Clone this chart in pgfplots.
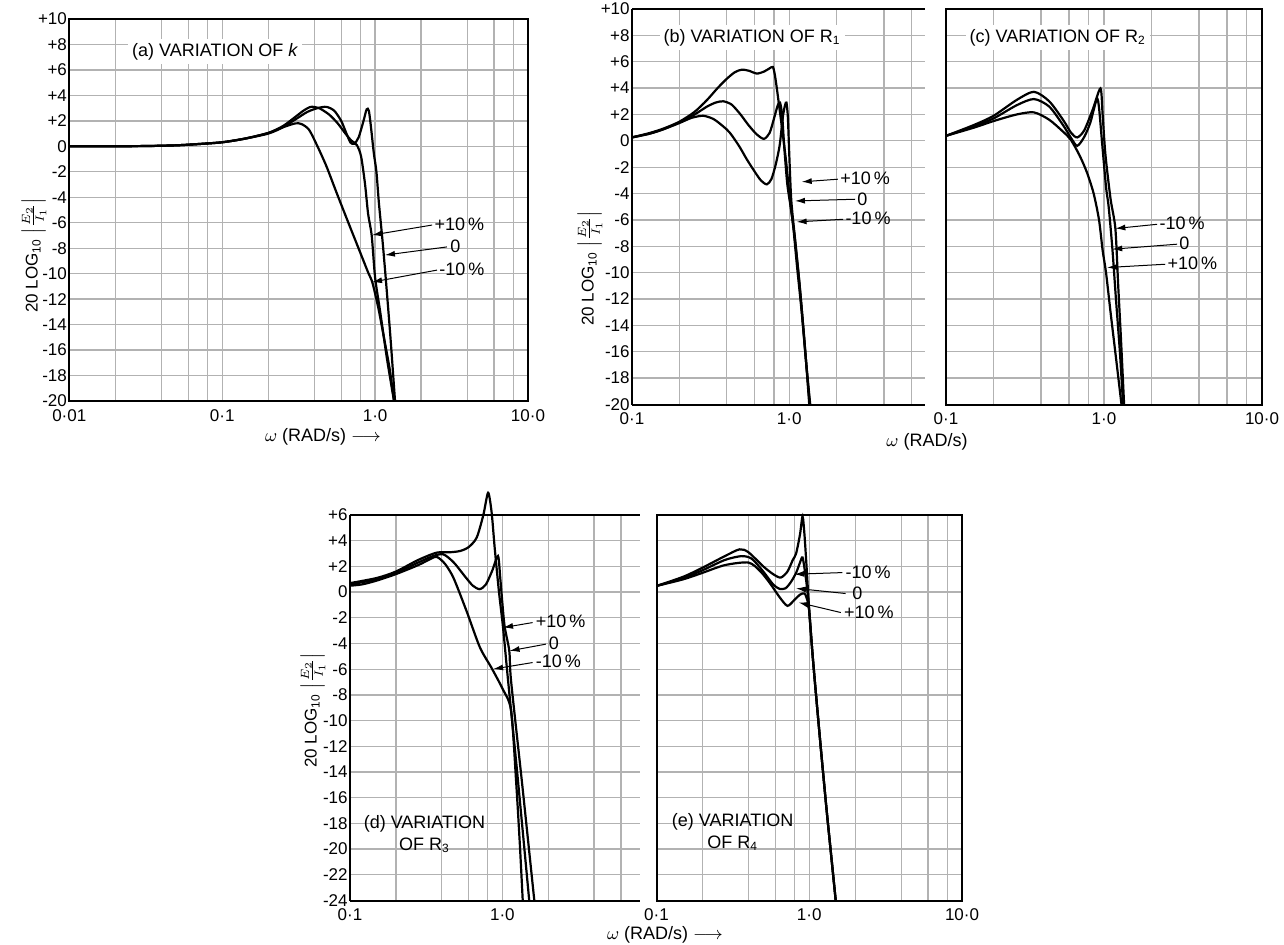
\documentclass[border=0pt]{standalone}
\usepackage{fontspec}
\setmainfont{Liberation Sans}
\usepackage{pgfplots}
\pgfplotsset{compat=1.18}
\usetikzlibrary{arrows.meta}

\pgfplotsset{
  bode/.style={
    scale only axis,
    grid=both,
    major grid style={gray!60, line width=0.65pt},
    minor grid style={gray!60, line width=0.65pt},
    major tick length=0pt, minor tick length=0pt,
    axis line style={line width=1pt},
    tick label style={font=\fontsize{8.5}{10}\selectfont},
    yticklabel style={inner sep=1pt},
    xticklabel style={inner sep=1pt, yshift=-3pt},
    clip=false,
  },
}
\tikzset{
  crv/.style={black, mark=none, line width=1.1pt, smooth, tension=0.45},
  ann/.style={font=\fontsize{9}{11}\selectfont, inner sep=1pt},
  arr/.style={-{Latex[length=5pt,width=3pt]}, line width=0.5pt},
}
\newcommand{\ylab}{20 LOG\textsubscript{10} $\left|\frac{E_2}{I_1}\right|$}

\begin{document}
\begin{tikzpicture}
\path[use as bounding box] (0,0) rectangle (642pt,-472pt);

% ---------------- (a) ----------------
\begin{axis}[xmode=log, bode, anchor=north west, at={(34.65pt,-9.5pt)}, width=229.35pt, height=191pt,
  xmin=0.01, xmax=10, ymin=-20, ymax=10,
  xtick={0.01,0.1,1,10}, xticklabels={0·01,0·1,1·0,10·0},
  minor xtick={0.02,0.04,0.06,0.08,0.2,0.4,0.6,0.8,2,4,6,8},
  ytick={-20,-18,...,10},
  yticklabels={-20,-18,-16,-14,-12,-10,-8,-6,-4,-2,0,+2,+4,+6,+8,+10}]
\addplot[crv] coordinates {(0.01,0)(0.02,0)(0.03,0.02)(0.05,0.08)(0.07,0.18)(0.1,0.32)(0.14,0.6)(0.2,1.05)(0.25,1.5)(0.3,1.8)(0.33,1.75)(0.37,1.3)(0.42,0.0)(0.48,-1.55)(0.55,-3.4)(0.62,-5.0)(0.7,-6.6)(0.8,-8.35)(0.9,-9.9)(0.96,-10.7)(1.05,-12.7)(1.15,-15.2)(1.25,-17.6)(1.33,-20)};
\addplot[crv] coordinates {(0.01,0)(0.03,0.02)(0.05,0.08)(0.07,0.18)(0.1,0.32)(0.14,0.6)(0.2,1.05)(0.25,1.6)(0.3,2.3)(0.34,2.8)(0.38,3.1)(0.43,3.0)(0.5,2.5)(0.57,1.8)(0.64,1.0)(0.7,0.45)(0.76,0.1)(0.81,-0.8)(0.86,-3.0)(0.9,-5.3)(0.95,-7)(1.0,-10.3)(1.08,-13)(1.2,-16.8)(1.33,-20)};
\addplot[crv] coordinates {(0.01,0)(0.03,0.02)(0.05,0.08)(0.07,0.18)(0.1,0.32)(0.14,0.6)(0.2,1.0)(0.25,1.5)(0.3,2.1)(0.36,2.7)(0.42,3.0)(0.48,3.1)(0.54,2.8)(0.6,2.0)(0.65,1.0)(0.69,0.3)(0.73,0.2)(0.78,0.7)(0.84,2.0)(0.88,2.9)(0.91,2.8)(0.94,1.5)(0.98,-0.5)(1.02,-2)(1.06,-4.5)(1.12,-7.5)(1.18,-10.7)(1.26,-15)(1.35,-20)};
\node[ann, fill=white, inner sep=2pt] at (axis cs:0.09,7.43) {(a) VARIATION OF \textit{k}};
\draw[arr] (axis cs:2.36,-6.18) -- (axis cs:0.955,-6.97);
\node[ann, anchor=west] at (axis cs:2.36,-6.1) {+10\,\%};
\draw[arr] (axis cs:2.95,-7.9) -- (axis cs:1.16,-8.54);
\node[ann, anchor=west] at (axis cs:3.0,-7.83) {0};
\draw[arr] (axis cs:2.54,-9.72) -- (axis cs:0.955,-10.66);
\node[ann, anchor=west] at (axis cs:2.54,-9.64) {-10\,\%};
\end{axis}

% ---------------- (b) ----------------
\begin{axis}[xmode=log, bode, anchor=north west, at={(316pt,-4.5pt)}, width=146.5pt, height=197.75pt,
  axis x line*=box, axis y line*=left,
  xmin=0.1, xmax=7.3, ymin=-20, ymax=10,
  xtick={0.1,1}, xticklabels={0·1,1·0},
  minor xtick={0.2,0.4,0.6,0.8,2,4,6},
  ytick={-20,-18,...,10},
  yticklabels={-20,-18,-16,-14,-12,-10,-8,-6,-4,-2,0,+2,+4,+6,+8,+10}]
\addplot[crv] coordinates {(0.1,0.26)(0.13,0.55)(0.16,0.9)(0.2,1.35)(0.24,1.75)(0.284,1.9)(0.33,1.65)(0.38,1.1)(0.42,0.6)(0.48,-0.4)(0.537,-1.4)(0.6,-2.3)(0.66,-3.0)(0.72,-3.3)(0.77,-2.9)(0.82,-1.8)(0.87,-0.3)(0.91,1.8)(0.94,2.7)(0.96,2.9)(0.98,1.8)(1.0,-1)(1.03,-4.5)(1.09,-7.5)(1.17,-11.2)(1.26,-15.8)(1.35,-20)};
\addplot[crv] coordinates {(0.1,0.26)(0.13,0.55)(0.16,0.9)(0.2,1.4)(0.25,2.0)(0.3,2.6)(0.34,2.9)(0.38,3.0)(0.43,2.75)(0.49,2.0)(0.55,1.2)(0.62,0.5)(0.69,0.15)(0.75,0.6)(0.8,1.7)(0.845,2.7)(0.873,2.9)(0.9,2.0)(0.93,-0.5)(0.97,-3.2)(1.02,-5.0)(1.08,-7.2)(1.16,-10.8)(1.25,-15.2)(1.34,-20)};
\addplot[crv] coordinates {(0.1,0.26)(0.13,0.6)(0.16,0.95)(0.2,1.45)(0.25,2.2)(0.3,3.1)(0.35,4.0)(0.4,4.7)(0.45,5.2)(0.5,5.4)(0.56,5.3)(0.62,5.1)(0.69,5.25)(0.75,5.5)(0.787,5.6)(0.81,5.0)(0.84,3.7)(0.87,2.3)(0.91,0.5)(0.96,-1.8)(1.0,-4.0)(1.06,-6.5)(1.12,-9.5)(1.2,-13)(1.28,-16.8)(1.36,-20)};
\node[ann, fill=white, inner sep=2pt] at (axis cs:0.58,7.85) {(b) VARIATION OF R\textsubscript{1}};
\draw[arr] (axis cs:2.04,-2.91) -- (axis cs:1.2,-3.11);
\node[ann, anchor=west] at (axis cs:2.04,-2.85) {+10\,\%};
\draw[arr] (axis cs:2.62,-4.43) -- (axis cs:1.087,-4.56);
\node[ann, anchor=west] at (axis cs:2.62,-4.4) {0};
\draw[arr] (axis cs:2.2,-5.95) -- (axis cs:1.114,-6.15);
\node[ann, anchor=west] at (axis cs:2.2,-5.9) {-10\,\%};
\end{axis}

% ---------------- (c) ----------------
\begin{axis}[xmode=log, bode, anchor=north west, at={(473pt,-4.5pt)}, width=158pt, height=197.75pt,
  xmin=0.1, xmax=10, ymin=-20, ymax=10,
  xtick={0.1,1,10}, xticklabels={0·1,1·0,10·0},
  minor xtick={0.2,0.4,0.6,0.8,2,4,6,8},
  ytick={-20,-18,...,10}, yticklabels={}]
\addplot[crv] coordinates {(0.1,0.38)(0.15,1.0)(0.2,1.5)(0.28,2.0)(0.36,2.16)(0.45,1.6)(0.55,0.7)(0.615,0.1)(0.7,-1.1)(0.78,-2.4)(0.86,-4.0)(0.93,-6)(0.98,-8.3)(1.03,-10)(1.1,-13)(1.2,-16.8)(1.29,-20)};
\addplot[crv] coordinates {(0.1,0.38)(0.15,1.1)(0.2,1.7)(0.28,2.7)(0.36,3.17)(0.45,2.6)(0.55,1.2)(0.62,0.2)(0.677,-0.38)(0.75,0.3)(0.82,1.4)(0.9,3.17)(0.93,2.5)(0.97,0)(1.03,-3.5)(1.07,-5)(1.13,-8.2)(1.19,-12)(1.26,-16)(1.32,-20)};
\addplot[crv] coordinates {(0.1,0.38)(0.15,1.2)(0.2,1.9)(0.28,3.1)(0.36,3.72)(0.45,3.0)(0.55,1.6)(0.62,0.6)(0.677,0.26)(0.75,0.8)(0.85,2.4)(0.95,3.98)(0.98,2)(1.02,-1)(1.1,-4.4)(1.18,-6.65)(1.23,-11)(1.28,-15)(1.34,-20)};
\node[ann, fill=white, inner sep=2pt] at (axis cs:0.509,7.85) {(c) VARIATION OF R\textsubscript{2}};
\draw[arr] (axis cs:2.17,-6.33) -- (axis cs:1.18,-6.65);
\node[ann, anchor=west] at (axis cs:2.17,-6.25) {-10\,\%};
\draw[arr] (axis cs:2.9,-7.84) -- (axis cs:1.127,-8.22);
\node[ann, anchor=west] at (axis cs:2.9,-7.8) {0};
\draw[arr] (axis cs:2.44,-9.36) -- (axis cs:1.047,-9.61);
\node[ann, anchor=west] at (axis cs:2.44,-9.3) {+10\,\%};
\end{axis}

% ---------------- (d) ----------------
\begin{axis}[xmode=log, bode, anchor=north west, at={(175pt,-257.5pt)}, width=145pt, height=192.75pt,
  axis x line*=box, axis y line*=left,
  xmin=0.1, xmax=8, ymin=-24, ymax=6,
  xtick={0.1,1}, xticklabels={0·1,1·0},
  minor xtick={0.2,0.4,0.6,0.8,2,4,6},
  ytick={-24,-22,...,6},
  yticklabels={-24,-22,-20,-18,-16,-14,-12,-10,-8,-6,-4,-2,0,+2,+4,+6}]
\addplot[crv] coordinates {(0.1,0.5)(0.12,0.6)(0.15,0.9)(0.2,1.4)(0.28,2.1)(0.34,2.6)(0.372,2.74)(0.42,2.2)(0.478,1.1)(0.583,-1.5)(0.712,-4.3)(0.849,-5.9)(1.0,-7.5)(1.14,-9.2)(1.23,-14.7)(1.3,-19.5)(1.36,-24)};
\addplot[crv] coordinates {(0.1,0.6)(0.15,1.0)(0.2,1.5)(0.28,2.3)(0.35,2.8)(0.41,2.94)(0.48,2.3)(0.57,1.2)(0.64,0.5)(0.71,0.23)(0.78,0.6)(0.86,1.7)(0.936,2.81)(0.97,1.0)(1.03,-2.5)(1.11,-4.57)(1.14,-6.9)(1.35,-15)(1.62,-24)};
\addplot[crv] coordinates {(0.1,0.7)(0.15,1.1)(0.2,1.6)(0.28,2.5)(0.37,3.07)(0.45,3.1)(0.528,3.2)(0.6,3.5)(0.678,4.24)(0.75,6.0)(0.806,7.73)(0.85,6.2)(0.89,3.46)(0.95,0)(1.01,-2.76)(1.09,-6.9)(1.25,-14)(1.5,-24)};
\node[ann, align=center] at (axis cs:0.308,-18.8) {(d) VARIATION\\OF R\textsubscript{3}};
\draw[arr] (axis cs:1.58,-2.37) -- (axis cs:1.01,-2.76);
\node[ann, anchor=west] at (axis cs:1.6,-2.3) {+10\,\%};
\draw[arr] (axis cs:1.93,-4.05) -- (axis cs:1.115,-4.57);
\node[ann, anchor=west] at (axis cs:1.95,-4.0) {0};
\draw[arr] (axis cs:1.58,-5.48) -- (axis cs:0.869,-5.99);
\node[ann, anchor=west] at (axis cs:1.6,-5.4) {-10\,\%};
\end{axis}

% ---------------- (e) ----------------
\begin{axis}[xmode=log, bode, anchor=north west, at={(328.25pt,-257.5pt)}, width=152.75pt, height=192.75pt,
  xmin=0.1, xmax=10, ymin=-24, ymax=6,
  xtick={0.1,1,10}, xticklabels={0·1,1·0,10·0},
  minor xtick={0.2,0.4,0.6,0.8,2,4,6,8},
  ytick={-24,-22,...,6}, yticklabels={}]
\addplot[crv] coordinates {(0.1,0.48)(0.15,1.2)(0.2,1.9)(0.28,2.8)(0.35,3.33)(0.4,3.1)(0.5,2.0)(0.58,1.4)(0.65,1.13)(0.72,1.6)(0.78,2.5)(0.82,3.0)(0.87,4.5)(0.904,5.9)(0.93,4.5)(0.96,2)(1.0,-1.5)(1.05,-4.8)(1.1,-7.6)(1.2,-12.6)(1.3,-17)(1.4,-20.8)(1.49,-24)};
\addplot[crv] coordinates {(0.1,0.48)(0.15,1.1)(0.2,1.7)(0.28,2.5)(0.36,2.8)(0.42,2.6)(0.5,1.6)(0.58,0.6)(0.64,0.25)(0.7,0.3)(0.76,0.8)(0.82,1.5)(0.87,2.3)(0.904,2.7)(0.94,1.5)(0.97,0.2)(1.0,-1.5)(1.05,-4.8)(1.1,-7.6)(1.2,-12.6)(1.3,-17)(1.4,-20.8)(1.49,-24)};
\addplot[crv] coordinates {(0.1,0.48)(0.15,1.0)(0.2,1.5)(0.28,2.1)(0.4,2.3)(0.48,1.6)(0.56,0.6)(0.64,-0.4)(0.72,-1.07)(0.8,-0.6)(0.87,-0.2)(0.93,-0.1)(0.97,-0.6)(1.0,-1.5)(1.05,-4.8)(1.1,-7.6)(1.2,-12.6)(1.3,-17)(1.4,-20.8)(1.49,-24)};
\node[ann, align=center] at (axis cs:0.315,-18.7) {(e) VARIATION\\OF R\textsubscript{4}};
\draw[arr] (axis cs:1.65,1.52) -- (axis cs:0.798,1.39);
\node[ann, anchor=west] at (axis cs:1.67,1.55) {-10\,\%};
\draw[arr] (axis cs:1.73,-0.11) -- (axis cs:0.819,0.29);
\node[ann, anchor=west] at (axis cs:1.85,-0.1) {0};
\draw[arr] (axis cs:1.61,-1.59) -- (axis cs:0.852,-0.81);
\node[ann, anchor=west] at (axis cs:1.63,-1.55) {+10\,\%};
\end{axis}

% ---------------- outer labels ----------------
\node[rotate=90, font=\fontsize{8.5}{10}\selectfont] at (17pt,-127.5pt) {\ylab};
\node[rotate=90, font=\fontsize{8.5}{10}\selectfont] at (295pt,-134pt) {\ylab};
\node[rotate=90, font=\fontsize{8.5}{10}\selectfont] at (156.5pt,-355pt) {\ylab};
\node[font=\fontsize{9}{11}\selectfont, inner sep=1pt] at (161.5pt,-218.5pt) {$\omega$ (RAD/s) $\longrightarrow$};
\node[font=\fontsize{9}{11}\selectfont, inner sep=1pt] at (463.5pt,-221pt) {$\omega$ (RAD/s)};
\node[font=\fontsize{9}{11}\selectfont, inner sep=1pt] at (332.5pt,-467.5pt) {$\omega$ (RAD/s) $\longrightarrow$};
\end{tikzpicture}
\end{document}
